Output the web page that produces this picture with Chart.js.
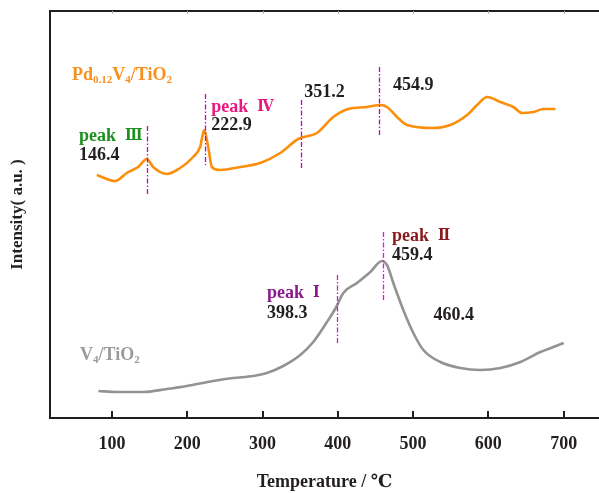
<!DOCTYPE html>
<html>
<head>
<meta charset="utf-8">
<script src="https://cdn.jsdelivr.net/npm/chart.js@4.4.1/dist/chart.umd.min.js"></script>
<style>
  html, body { margin: 0; padding: 0; background: #fff; }
  #wrap { width: 599px; height: 493px; }
</style>
</head>
<body>
<div id="wrap"><canvas id="tprChart" width="599" height="493"></canvas></div>
<script>
// H2-TPR profiles, intensity in arbitrary units
const pdTemp = [79.7, 104, 119.5, 134.6, 146.1, 154.5, 172.7, 190.4, 207.7, 217, 222.3, 227.7, 232.6,
    243.6, 270.2, 296.8, 323.4, 347.3, 372.2, 393.9, 413.8, 438.7, 456.4, 465.3, 478.6, 491.9,
    526.9, 549.5, 571.7, 585, 598.3, 616, 633.2, 644.8, 659.8, 673.1, 689.1];
const pdIntensity = [243, 237, 245, 251, 259, 251, 244, 250, 261, 271, 288, 271, 251,
    248, 251, 255, 265, 279, 285, 301, 309, 311, 313, 311, 301, 293,
    290, 293, 303, 313, 321, 316, 311, 305, 306, 309, 309];

const vTemp = [81.8, 106.3, 141.2, 172.7, 199.3, 234.3, 260.9, 287.5, 305.7, 327.4, 350, 367.3, 385.5,
    397.9, 407.2, 425.4, 443.1, 458.6, 465.3, 473.7, 487, 500.3, 513.6, 536.2, 562.8, 589.4,
    616, 642.6, 669.1, 686.4, 700.1];
const vIntensity = [27, 26, 26, 29, 32, 37, 40, 42, 45, 52, 63, 76, 96,
    111, 125, 135, 146, 157, 153, 135, 108, 85, 68, 56, 50, 48,
    50, 56, 66, 71, 75];

const xTicks = [100, 200, 300, 400, 500, 600, 700];

// peak markers: temperature and the intensity span of the dash-dot line
const peakTemps = [146.4, 222.9, 351.2, 454.9, 398.3, 459.4];
const peakFrom = [222, 253, 250, 281, 73, 116];
const peakTo = [292, 324, 318, 351, 143, 186];
const peakColors = ['#c800c8', '#c800c8', '#c800c8', '#c800c8', '#b030b0', '#ff00ff'];

// text notes, anchored in data units (left edge, vertical middle)
const notes = [
    { x: 46.8, y: 343, color: '#f7901e', parts: [['Pd'], ['0.12', 1], ['V'], ['4', 1], ['/TiO'], ['2', 1]] },
    { x: 57.4, y: 63, color: '#9b9b9b', parts: [['V'], ['4', 1], ['/TiO'], ['2', 1]] },
    { x: 56.1, y: 282, color: '#1f8f1f', parts: [['peak  '], ['Ⅲ', 2]] },
    { x: 56.1, y: 263, color: '#231f20', parts: [['146.4']] },
    { x: 231.6, y: 311, color: '#e8177f', parts: [['peak  '], ['Ⅳ', 2]] },
    { x: 231.6, y: 293, color: '#231f20', parts: [['222.9']] },
    { x: 355.3, y: 326, color: '#231f20', parts: [['351.2']] },
    { x: 473.3, y: 333, color: '#231f20', parts: [['454.9']] },
    { x: 472, y: 182, color: '#8b1a1a', parts: [['peak  '], ['Ⅱ', 2]] },
    { x: 472, y: 163, color: '#231f20', parts: [['459.4']] },
    { x: 305.7, y: 125, color: '#8b1a8b', parts: [['peak  '], ['Ⅰ', 2]] },
    { x: 305.7, y: 105, color: '#231f20', parts: [['398.3']] },
    { x: 527, y: 103, color: '#231f20', parts: [['460.4']] }
];

const serif = '"Liberation Serif", "DejaVu Serif", "Times New Roman", "Noto Sans CJK SC", serif';
const numeralFont = 'bold 16px "DejaVu Serif Condensed", "DejaVu Serif", serif';
const axisColor = '#231f20';

const overlay = {
    id: 'overlay',
    afterDraw(chart) {
        const { ctx, chartArea: a, scales: { x, y } } = chart;
        ctx.save();

        // top frame line
        ctx.strokeStyle = axisColor;
        ctx.lineWidth = 2;
        ctx.beginPath();
        ctx.moveTo(a.left - 1, a.top);
        ctx.lineTo(a.right, a.top);
        ctx.stroke();

        // ticks pointing inward
        xTicks.forEach(v => {
            const px = Math.round(x.getPixelForValue(v));
            ctx.strokeStyle = axisColor;
            ctx.lineWidth = 2;
            ctx.beginPath();
            ctx.moveTo(px, a.bottom);
            ctx.lineTo(px, a.bottom - 7);
            ctx.stroke();
            ctx.strokeStyle = '#b5b0b0';
            ctx.lineWidth = 1;
            ctx.beginPath();
            ctx.moveTo(px + 0.5, a.top);
            ctx.lineTo(px + 0.5, a.top + 3);
            ctx.stroke();
        });

        // dash-dot peak markers
        ctx.lineWidth = 1.3;
        ctx.setLineDash([5, 2, 1.5, 2]);
        peakTemps.forEach((t, i) => {
            const px = Math.round(x.getPixelForValue(t)) + 0.5;
            ctx.strokeStyle = peakColors[i];
            ctx.beginPath();
            ctx.moveTo(px, y.getPixelForValue(peakTo[i]));
            ctx.lineTo(px, y.getPixelForValue(peakFrom[i]));
            ctx.stroke();
        });
        ctx.setLineDash([]);

        // notes with subscripts and roman numerals
        ctx.textBaseline = 'middle';
        ctx.textAlign = 'left';
        notes.forEach(n => {
            let px = x.getPixelForValue(n.x);
            const py = y.getPixelForValue(n.y);
            ctx.fillStyle = n.color;
            n.parts.forEach(([txt, kind]) => {
                if (kind === 1) ctx.font = 'bold 11px ' + serif;
                else if (kind === 2) ctx.font = numeralFont;
                else ctx.font = 'bold 18px ' + serif;
                ctx.fillText(txt, px, kind === 1 ? py + 5 : py);
                px += ctx.measureText(txt).width;
            });
        });
        ctx.restore();
    }
};

const ctx = document.getElementById('tprChart').getContext('2d');
const tprChart = new Chart(ctx, {
    type: 'line',
    data: {
        datasets: [{
            label: 'Pd0.12V4/TiO2',
            data: pdTemp.map((t, i) => ({ x: t, y: pdIntensity[i] })),
            borderColor: '#fb8f0c',
            borderWidth: 2.6,
            pointRadius: 0,
            cubicInterpolationMode: 'monotone'
        }, {
            label: 'V4/TiO2',
            data: vTemp.map((t, i) => ({ x: t, y: vIntensity[i] })),
            borderColor: '#939393',
            borderWidth: 2.6,
            pointRadius: 0,
            cubicInterpolationMode: 'monotone'
        }]
    },
    options: {
        responsive: false,
        animation: false,
        layout: { padding: { top: 11, right: 0, bottom: 0, left: 0 } },
        plugins: {
            legend: { display: false },
            tooltip: { enabled: false }
        },
        scales: {
            x: {
                type: 'linear',
                min: 17.5,
                max: 747,
                afterBuildTicks: scale => { scale.ticks = xTicks.map(v => ({ value: v })); },
                afterFit: scale => { scale.height = 75; },
                grid: { display: false, drawTicks: false },
                border: { display: true, color: axisColor, width: 2 },
                ticks: {
                    padding: 16,
                    color: axisColor,
                    font: { family: serif, size: 18, weight: 'bold' }
                },
                title: {
                    display: true,
                    text: 'Temperature / ℃',
                    color: axisColor,
                    padding: { top: -2, bottom: 0 },
                    font: { family: serif, size: 18, weight: 'bold' }
                }
            },
            y: {
                min: 0,
                max: 407,
                afterFit: scale => { scale.width = 50; },
                grid: { display: false, drawTicks: false },
                border: { display: true, color: axisColor, width: 2 },
                ticks: { display: false },
                title: {
                    display: true,
                    text: 'Intensity( a.u. )',
                    color: axisColor,
                    padding: { top: 7, bottom: 0 },
                    font: { family: serif, size: 17, weight: 'bold' }
                }
            }
        }
    },
    plugins: [overlay]
});
</script>
</body>
</html>
